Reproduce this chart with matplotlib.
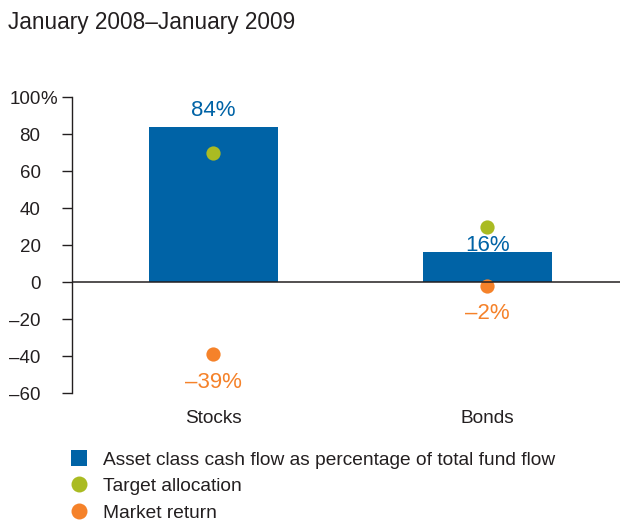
import numpy as np
import matplotlib.pyplot as plt
from matplotlib.lines import Line2D
from matplotlib.patches import Patch

plt.rcParams['font.family'] = ['Liberation Sans', 'DejaVu Sans']

categories = ['Stocks', 'Bonds']
cash_flow = [84, 16]
target_alloc = [70, 30]
market_return = [-39, -2]
yticks = [-60, -40, -20, 0, 20, 40, 60, 80, 100]
ytick_labels = ['–60', '–40', '–20', '0', '20', '40', '60', '80', '100']

blue = '#0063a6'
green = '#aabb22'
orange = '#f5822a'
txt = '#231f20'

fig = plt.figure(figsize=(6.27, 5.22), dpi=100)
ax = fig.add_axes([0.115, 0.247, 0.874, 0.567])

x = np.arange(len(categories))
ax.bar(x, cash_flow, width=0.47, color=blue, zorder=2)
ax.scatter(x, target_alloc, s=105, color=green, zorder=3, linewidths=0)
ax.scatter(x, market_return, s=105, color=orange, zorder=3, linewidths=0)
ax.axhline(0, color=txt, lw=1.1, zorder=4)

def pct(v):
    return f'{v}%'.replace('-', '–')

# bar labels sit above the bar (closer when a dot is above it)
bar_offsets = [4, -2.5]
for xi, v, off in zip(x, cash_flow, bar_offsets):
    ax.annotate(pct(v), (xi, v), xytext=(0, off), textcoords='offset points',
                ha='center', va='bottom', color=blue, fontsize=16)
for xi, v in zip(x, market_return):
    ax.annotate(pct(v), (xi, v), xytext=(0, -12.5), textcoords='offset points',
                ha='center', va='top', color=orange, fontsize=16)

ax.set_xlim(-0.515, 1.485)
ax.set_ylim(-60, 100)
ax.set_yticks(yticks)
ax.set_yticklabels(ytick_labels)
ax.set_xticks(x)
ax.set_xticklabels(categories)
ax.tick_params(axis='y', length=7.2, width=1, color=txt, labelsize=13.5,
               labelcolor=txt, pad=15.5)
ax.tick_params(axis='x', length=0, labelsize=13.7, labelcolor=txt, pad=12)
for s in ['top', 'right', 'bottom']:
    ax.spines[s].set_visible(False)
ax.spines['left'].set_color(txt)
ax.spines['left'].set_linewidth(1)

# percent sign hangs to the right of the top tick number
ax.annotate('%', (0, 100), xycoords=('axes fraction', 'data'),
            xytext=(-15.5 - 7.2 - 0.5, 0), textcoords='offset points',
            ha='left', va='center_baseline', fontsize=13.5, color=txt)

fig.text(0.012, 0.957, 'January 2008–January 2009', fontsize=16.3, color=txt, va='center')

handles = [
    Patch(facecolor=blue, edgecolor='none'),
    Line2D([], [], ls='none', marker='o', markersize=11.5, color=green, markeredgewidth=0),
    Line2D([], [], ls='none', marker='o', markersize=11.5, color=orange, markeredgewidth=0),
]
labels = ['Asset class cash flow as percentage of total fund flow',
          'Target allocation', 'Market return']
fig.legend(handles, labels, loc='upper left', bbox_to_anchor=(0.113, 0.137),
           frameon=False, fontsize=13.8, labelcolor=txt, handlelength=0.83,
           handleheight=0.83, handletextpad=0.85, labelspacing=0.45,
           borderaxespad=0, borderpad=0)

fig.savefig('out.png', dpi=100)
